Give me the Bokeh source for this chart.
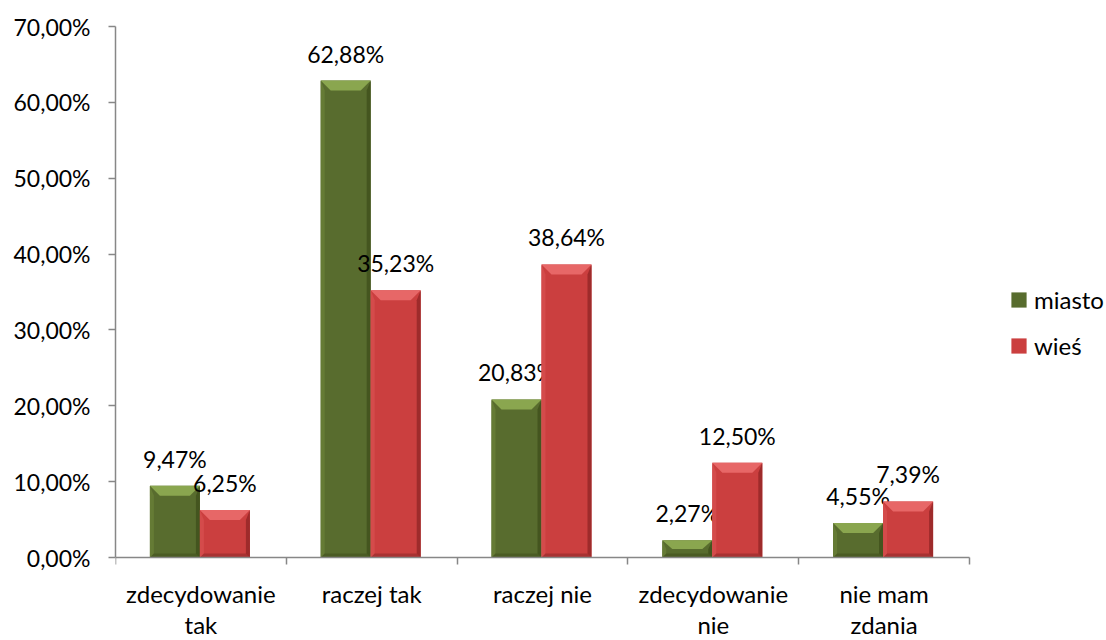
import numpy as np
from bokeh.plotting import figure
from bokeh.models import Range1d, FixedTicker, Legend, LegendItem
from bokeh.core.properties import value
from bokeh.embed import file_html
from bokeh.resources import INLINE

# ---- data ----
categories = ["zdecydowanie\ntak", "raczej tak", "raczej nie", "zdecydowanie\nnie", "nie mam\nzdania"]
series_names = ["miasto", "wieś"]
miasto = [9.47, 62.88, 20.83, 2.27, 4.55]
wies = [6.25, 35.23, 38.64, 12.50, 7.39]
y_ticks = [0, 10, 20, 30, 40, 50, 60, 70]
y_tick_labels = ["0,00%", "10,00%", "20,00%", "30,00%", "40,00%", "50,00%", "60,00%", "70,00%"]

# ---- layout / style ----
FONT = "Lato"
FS_NUM = "23px"
FS_TXT = "24px"
W, H = 1106, 640
L, T = 115, 26
AXIS_RIGHT = 969     # px where the category axis ends
AXIS_BOTTOM = 557    # px of the 0% line
n = len(categories)
px_x = (AXIS_RIGHT - L) / n
px_y = (AXIS_BOTTOM - T) / y_ticks[-1]
x_end = (W - L) / px_x                 # frame reaches the right page edge (legend room)
y_start = -(H - AXIS_BOTTOM) / px_y    # frame reaches the bottom page edge (label room)

AXIS_COLOR = "#878787"

p = figure(width=W, height=H, x_range=Range1d(0, x_end), y_range=Range1d(y_start, y_ticks[-1]),
           output_backend="svg", toolbar_location=None,
           min_border_left=L, min_border_right=0, min_border_top=T, min_border_bottom=0)
p.outline_line_color = None
p.xgrid.visible = False
p.ygrid.visible = False
p.background_fill_color = "white"

centers = np.arange(n) + 0.5
bw = 50 / px_x
offsets = [-0.5 * bw - 1 / px_x, 0.5 * bw - 1 / px_x]

styles = [
    dict(main="#586c2e", top="#8aa64f", left="#657b35", right="#44551f", bottom="#4b5c24"),
    dict(main="#cb3f3f", top="#e76767", left="#d44b4b", right="#9e2b2b", bottom="#a83232"),
]

renderers = []
for vals, off, st in zip([miasto, wies], offsets, styles):
    vals = np.array(vals, dtype=float)
    xc = centers + off
    x0 = xc - bw / 2
    x1 = xc + bw / 2
    r = p.quad(left=x0, right=x1, bottom=0, top=vals, fill_color=st["main"], line_color=None)
    renderers.append(r)
    sx = 4 / px_x
    bx = 10 / px_x
    by = np.minimum(10 / px_y, vals / 2)
    sb = np.minimum(4 / px_y, vals / 4)
    p.patches(xs=[[a, a, a + sx, a + sx] for a in x0],
              ys=[[0, t, t - h, 0] for t, h in zip(vals, by)],
              fill_color=st["left"], line_color=None)
    p.patches(xs=[[b, b, b - sx, b - sx] for b in x1],
              ys=[[0, t, t - h, 0] for t, h in zip(vals, by)],
              fill_color=st["right"], line_color=None)
    p.patches(xs=[[a, b, b - sx, a + sx] for a, b in zip(x0, x1)],
              ys=[[0, 0, s, s] for s in sb],
              fill_color=st["bottom"], line_color=None)
    p.patches(xs=[[a, b, b - bx, a + bx] for a, b in zip(x0, x1)],
              ys=[[t, t, t - h, t - h] for t, h in zip(vals, by)],
              fill_color=st["top"], line_color=None)
    labels = [f"{v:.2f}%".replace(".", ",") for v in vals]
    p.text(x=xc, y=vals, text=labels, text_align="center", text_baseline="middle",
           y_offset=-27, text_font=value(FONT), text_font_size=FS_NUM, text_color="black")

# ---- axes ----
xa = p.xaxis[0]
xa.fixed_location = 0
xa.bounds = (0, n)
xa.ticker = FixedTicker(ticks=list(centers), minor_ticks=list(range(n + 1)))
xa.major_label_overrides = {float(c): lab for c, lab in zip(centers, categories)}
xa.major_tick_out = 0
xa.major_tick_in = 0
xa.minor_tick_out = 7
xa.minor_tick_in = 0
xa.minor_tick_line_color = AXIS_COLOR
xa.minor_tick_line_width = 1.5
xa.axis_line_color = AXIS_COLOR
xa.axis_line_width = 1.5
xa.major_label_standoff = 14
xa.major_label_text_font = FONT
xa.major_label_text_font_size = FS_TXT
xa.major_label_text_line_height = 1.1
xa.major_label_text_color = "black"

ya = p.yaxis[0]
ya.bounds = (0, y_ticks[-1])
ya.ticker = FixedTicker(ticks=y_ticks, minor_ticks=[])
ya.major_label_overrides = {t: lab for t, lab in zip(y_ticks, y_tick_labels)}
ya.major_tick_out = 7
ya.major_tick_in = 0
ya.major_tick_line_color = AXIS_COLOR
ya.major_tick_line_width = 1.5
ya.axis_line_color = AXIS_COLOR
ya.axis_line_width = 1.5
ya.major_label_standoff = 18
ya.major_label_text_font = FONT
ya.major_label_text_font_size = FS_NUM
ya.major_label_text_color = "black"

# ---- legend ----
legend = Legend(items=[LegendItem(label=nm, renderers=[r]) for nm, r in zip(series_names, renderers)],
                location=(1009 - L, 197 + (H - AXIS_BOTTOM)), orientation="vertical",
                glyph_width=19, glyph_height=19, label_standoff=6, spacing=17,
                padding=0, margin=0, border_line_color=None, background_fill_alpha=0,
                label_text_font=FONT, label_text_font_size=FS_TXT, label_text_color="black")
p.add_layout(legend)

open("out.html", "w").write(file_html(p, INLINE))
